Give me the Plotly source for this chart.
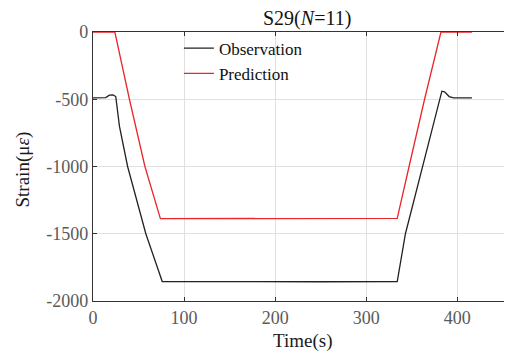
import plotly.graph_objects as go

obs_t = [0, 14, 18, 22, 25, 29, 38, 58, 76, 150, 250, 334, 343, 383, 386, 391, 396, 416]
obs_v = [-490, -488, -470, -468, -480, -700, -1000, -1500, -1855, -1858, -1857, -1855, -1500, -440, -445, -480, -490, -490]

pred_t = [0, 24, 40, 57, 74, 200, 334, 347, 364, 382, 416]
pred_v = [0, 0, -500, -1000, -1388, -1388, -1385, -1000, -500, 0, 0]

x_ticks = [0, 100, 200, 300, 400]
y_ticks = [0, -500, -1000, -1500, -2000]

serif = "Liberation Serif"
tickfont = dict(family=serif, size=18, color="#5a5a5a")
titlefont = dict(family=serif, size=19, color="#1a1a1a")

fig = go.Figure()
fig.add_trace(go.Scatter(x=obs_t, y=obs_v, mode="lines", name="Observation",
                         line=dict(color="#222222", width=1.3)))
fig.add_trace(go.Scatter(x=pred_t, y=pred_v, mode="lines", name="Prediction",
                         line=dict(color="#e8262b", width=1.3)))

fig.update_layout(
    width=504, height=346,
    margin=dict(l=85, r=0, t=24, b=53, autoexpand=False),
    paper_bgcolor="white", plot_bgcolor="white",
    font=dict(family=serif, size=17, color="#444444"),
    showlegend=True,
    legend=dict(x=0.205, y=1.005, xanchor="left", yanchor="top",
                bgcolor="rgba(0,0,0,0)", font=dict(family=serif, size=17, color="#111111"),
                tracegroupgap=0),
    annotations=[
        dict(text="S29(<i>N</i>=11)", xref="paper", yref="paper",
             x=0.511, y=1.0, xanchor="center", yanchor="middle", yshift=14,
             showarrow=False, font=dict(family=serif, size=20, color="#111111")),
        dict(text="Time(s)", xref="paper", yref="paper",
             x=0.5, y=0.0, xanchor="center", yanchor="middle", yshift=-40,
             showarrow=False, font=titlefont),
        dict(text="Strain(μ<i>ε</i>)", xref="paper", yref="paper", textangle=-90,
             x=0.0, y=0.5, xanchor="center", yanchor="middle", xshift=-71, yshift=-3,
             showarrow=False, font=titlefont),
    ],
)
fig.update_xaxes(range=[0, 460], tickvals=x_ticks, ticktext=[str(v) for v in x_ticks],
                 tickfont=tickfont, automargin=False,
                 showgrid=True, gridcolor="#e0e0e0", gridwidth=1,
                 showline=True, linecolor="#333333", linewidth=1.2, mirror="ticks",
                 ticks="inside", ticklen=4, tickcolor="#333333", zeroline=False)
fig.update_yaxes(range=[-2000, 0], tickvals=y_ticks, ticktext=[str(v) for v in y_ticks],
                 tickfont=tickfont, automargin=False,
                 showgrid=True, gridcolor="#e0e0e0", gridwidth=1,
                 showline=True, linecolor="#333333", linewidth=1.2,
                 ticks="inside", ticklen=4, tickcolor="#333333", zeroline=False)

fig.write_html("out.html")
